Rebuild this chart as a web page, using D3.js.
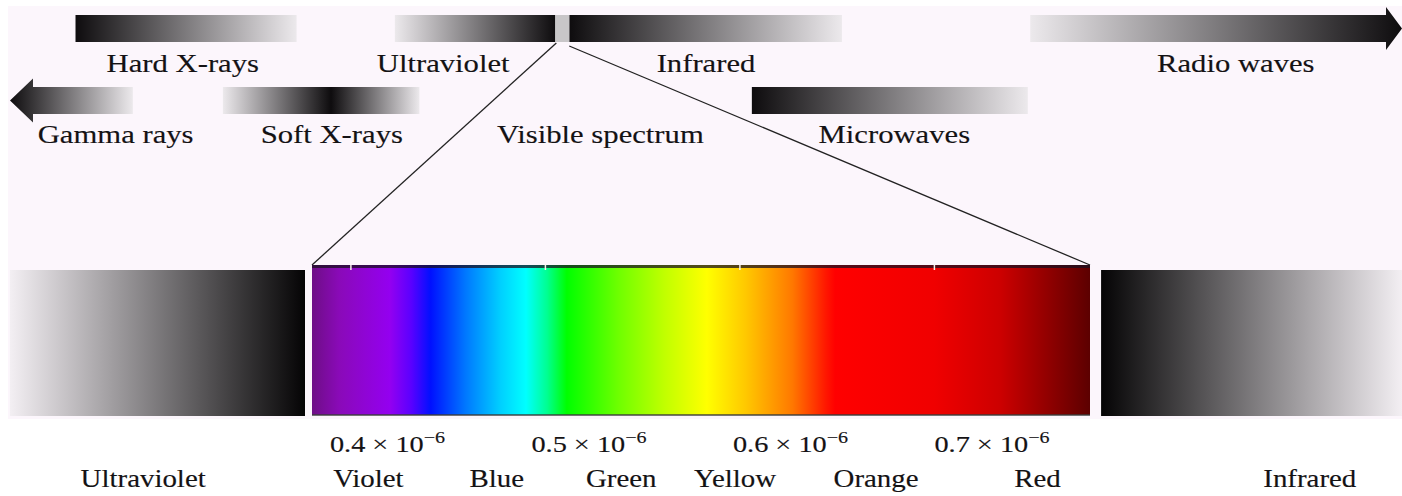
<!DOCTYPE html>
<html>
<head>
<meta charset="utf-8">
<script src="https://cdn.jsdelivr.net/npm/d3@7/dist/d3.min.js"></script>
<style>
  html, body { margin: 0; padding: 0; background: #ffffff; }
  svg { display: block; }
  text { font-family: "Liberation Serif", "Times New Roman", serif; fill: #141214; stroke: #141214; stroke-width: 0.15px; }
</style>
</head>
<body>
<svg id="chart" width="1402" height="496"></svg>
<script>
// ---------- DATA ----------
// Electromagnetic bands on a log10(wavelength in m) axis
const bandNames   = ["Gamma rays", "Hard X-rays", "Soft X-rays", "Ultraviolet", "Infrared", "Microwaves", "Radio waves"];
const bandStart   = [-13.0, -12.2, -10.4, -8.3, -6.17, -3.94, -0.54];
const bandEnd     = [-11.5, -9.5, -8.0, -6.34, -2.84, -0.57, 4.0];
const bandRow     = [2, 1, 2, 1, 1, 2, 1];
const bandLabelAt = [-11.71, -10.89, -9.07, -7.71, -4.50, -2.20, 1.97];
const bandDarkAt  = [0, 0, 0.55, 1, 0, 0, 1];        // where the band is darkest (0 = left, 1 = right)
const bandArrow   = ["left", "", "", "", "", "", "right"];

const visibleBand    = [-6.34, -6.17];
const visibleLabel   = "Visible spectrum";
const visibleLabelAt = -5.79;

// Visible spectrum detail, wavelength in micrometres
const spectrumRange = [0.38, 0.78];
const stopWavelength = [0.380, 0.394, 0.420, 0.431, 0.441, 0.459, 0.477, 0.490, 0.501, 0.511, 0.538, 0.561, 0.583, 0.603, 0.627, 0.644, 0.649, 0.700, 0.734, 0.780];
const stopColor      = ["#6e0e86", "#8a0ab8", "#9400f0", "#5a00ff", "#0010ff", "#0078ff", "#00d0ff", "#00ffff", "#00ff90", "#00ff00", "#70ff00", "#c0ff00", "#ffff00", "#ffc800", "#ff7800", "#ff1800", "#ff0000", "#f00000", "#cc0000", "#5c0000"];

const tickValues = [0.4, 0.5, 0.6, 0.7];
const tickMantissa = ["0.4", "0.5", "0.6", "0.7"];
const tickExponent = "−6";

const colorNames = ["Violet", "Blue", "Green", "Yellow", "Orange", "Red"];
const colorAt    = [0.409, 0.475, 0.539, 0.5975, 0.670, 0.753];

const sideNames   = ["Ultraviolet", "Infrared"];
const sideStart   = [0.2247, 0.7857];
const sideEnd     = [0.3764, 0.9405];
const sideLabelAt = [0.2932, 0.893];
const sideDarkAt  = [1, 0];

// ---------- DRAW ----------
const svg = d3.select("#chart");
const W = 1402, H = 496;
const defs = svg.append("defs");

// background (pale pink plate)
svg.append("rect").attr("x", 8).attr("y", 6).attr("width", W - 8).attr("height", 413).attr("fill", "#fcf6fc");

const xTop = d3.scaleLinear().domain([-13, 4]).range([10, 1402]);
const xVis = d3.scaleLinear().domain(spectrumRange).range([312, 1090]);
const xLbl = d3.scaleLinear().domain([0.4, 0.7]).range([xVis(0.4) - 21, xVis(0.7)]);

const STRETCH = 1.18;
function label(g, txt, x, y, size, anchor) {
  return g.append("text")
    .attr("transform", `translate(${x},${y}) scale(${STRETCH},1)`)
    .attr("text-anchor", anchor || "middle")
    .attr("font-size", size)
    .text(txt);
}

function grayGradient(id, darkAt, dark, light) {
  const gr = defs.append("linearGradient").attr("id", id)
    .attr("x1", "0%").attr("x2", "100%").attr("y1", "0%").attr("y2", "0%");
  if (darkAt <= 0) {
    gr.append("stop").attr("offset", "0%").attr("stop-color", dark);
    gr.append("stop").attr("offset", "100%").attr("stop-color", light);
  } else if (darkAt >= 1) {
    gr.append("stop").attr("offset", "0%").attr("stop-color", light);
    gr.append("stop").attr("offset", "100%").attr("stop-color", dark);
  } else {
    gr.append("stop").attr("offset", "0%").attr("stop-color", light);
    gr.append("stop").attr("offset", (darkAt * 100) + "%").attr("stop-color", dark);
    gr.append("stop").attr("offset", "100%").attr("stop-color", light);
  }
  return `url(#${id})`;
}

const rowY = { 1: 15, 2: 87 };
const rowH = 27;
const rowLabelY = { 1: 72, 2: 143 };

const topG = svg.append("g");
bandNames.forEach((name, i) => {
  const x0 = xTop(bandStart[i]), x1 = xTop(bandEnd[i]);
  const y0 = rowY[bandRow[i]], y1 = y0 + rowH, ym = (y0 + y1) / 2;
  const fill = grayGradient("band" + i, bandDarkAt[i], "#0e0c0e", "#ece9ec");
  if (bandArrow[i] === "left") {
    const hl = 23, hh = 22;
    const p = `M${x0},${ym} L${x0 + hl},${ym - hh} L${x0 + hl},${y0} L${x1},${y0} L${x1},${y1} L${x0 + hl},${y1} L${x0 + hl},${ym + hh} Z`;
    topG.append("path").attr("d", p).attr("fill", fill);
  } else if (bandArrow[i] === "right") {
    const hl = 16, hh = 21.5;
    const p = `M${x1},${ym} L${x1 - hl},${ym - hh} L${x1 - hl},${y0} L${x0},${y0} L${x0},${y1} L${x1 - hl},${y1} L${x1 - hl},${ym + hh} Z`;
    topG.append("path").attr("d", p).attr("fill", fill);
  } else {
    topG.append("rect").attr("x", x0).attr("y", y0).attr("width", x1 - x0).attr("height", rowH).attr("fill", fill);
  }
  label(topG, name, xTop(bandLabelAt[i]), rowLabelY[bandRow[i]], 26);
});

// visible gap marker
topG.append("rect")
  .attr("x", xTop(visibleBand[0])).attr("y", rowY[1])
  .attr("width", xTop(visibleBand[1]) - xTop(visibleBand[0])).attr("height", rowH)
  .attr("fill", "#c8c6c8");
label(topG, visibleLabel, xTop(visibleLabelAt), rowLabelY[2], 26);

// zoom lines
const specTop = 265, specBot = 415;
topG.append("line")
  .attr("x1", xTop(visibleBand[0]) + 1).attr("y1", rowY[1] + rowH + 1)
  .attr("x2", xVis(spectrumRange[0])).attr("y2", specTop)
  .attr("stroke", "#222").attr("stroke-width", 1.3);
topG.append("line")
  .attr("x1", xTop(visibleBand[1])).attr("y1", rowY[1] + rowH + 4)
  .attr("x2", xVis(spectrumRange[1])).attr("y2", specTop)
  .attr("stroke", "#222").attr("stroke-width", 1.3);

// ---------- bottom spectrum ----------
const bot = svg.append("g");
const sg = defs.append("linearGradient").attr("id", "spec")
  .attr("gradientUnits", "userSpaceOnUse")
  .attr("x1", xVis(spectrumRange[0])).attr("x2", xVis(spectrumRange[1])).attr("y1", 0).attr("y2", 0);
stopWavelength.forEach((w, i) => {
  sg.append("stop")
    .attr("offset", (w - spectrumRange[0]) / (spectrumRange[1] - spectrumRange[0]))
    .attr("stop-color", stopColor[i]);
});
bot.append("rect")
  .attr("x", xVis(spectrumRange[0])).attr("y", specTop)
  .attr("width", xVis(spectrumRange[1]) - xVis(spectrumRange[0])).attr("height", specBot - specTop)
  .attr("fill", "url(#spec)");
// dark top rim and bottom edge
bot.append("rect")
  .attr("x", xVis(spectrumRange[0])).attr("y", specTop)
  .attr("width", xVis(spectrumRange[1]) - xVis(spectrumRange[0])).attr("height", 3)
  .attr("fill", "#1a1020").attr("opacity", 0.75);
bot.append("rect")
  .attr("x", xVis(spectrumRange[0])).attr("y", specBot - 1)
  .attr("width", xVis(spectrumRange[1]) - xVis(spectrumRange[0])).attr("height", 2)
  .attr("fill", "#3a3a3a").attr("opacity", 0.7);
// tick marks on the top rim
bot.selectAll("line.tick").data(tickValues).enter().append("line")
  .attr("class", "tick")
  .attr("x1", d => xVis(d)).attr("x2", d => xVis(d))
  .attr("y1", specTop).attr("y2", specTop + 5)
  .attr("stroke", "#f4f0e8").attr("stroke-width", 1.5);

// tick labels
tickValues.forEach((v, i) => {
  const t = bot.append("text")
    .attr("transform", `translate(${xLbl(v)},452) scale(${STRETCH},1)`)
    .attr("text-anchor", "start")
    .attr("font-size", 24);
  t.append("tspan").text(tickMantissa[i] + " × 10");
  t.append("tspan").attr("dy", -9).attr("font-size", 17).text(tickExponent);
});

// colour names
colorNames.forEach((n, i) => label(bot, n, xVis(colorAt[i]), 487, 24.5));

// side gray bars
sideNames.forEach((n, i) => {
  const x0 = xVis(sideStart[i]), x1 = xVis(sideEnd[i]);
  const fill = grayGradient("side" + i, sideDarkAt[i], "#050405", "#f3eff3");
  bot.append("rect").attr("x", x0).attr("y", 270).attr("width", x1 - x0).attr("height", 146).attr("fill", fill);
  label(bot, n, xVis(sideLabelAt[i]), 487, 24.5);
});
</script>
</body>
</html>
